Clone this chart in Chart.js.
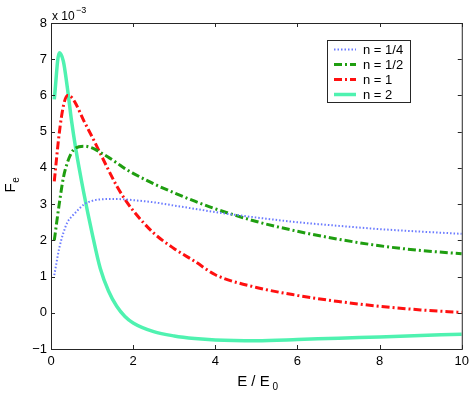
<!DOCTYPE html>
<html>
<head>
<meta charset="utf-8">
<script src="https://cdn.jsdelivr.net/npm/chart.js@4/dist/chart.umd.min.js"></script>
<style>
  body { margin: 0; background: #fff; }
  #wrap { width: 474px; height: 394px; }
</style>
</head>
<body>
<div id="wrap"><canvas id="chart" width="474" height="394"></canvas></div>
<script>
// E / E0 sample points (shared by all curves)
const energy = [0.08, 0.2, 0.3, 0.4, 0.5, 0.6, 0.8, 1.0, 1.2, 1.4, 1.6, 1.8, 2.0, 2.5, 3, 3.5, 4, 5, 6, 7, 8, 9, 10];

// Fe values, in units of 1e-3
const fQuarter = [1.04, 1.78, 2.2, 2.5, 2.65, 2.77, 2.99, 3.09, 3.13, 3.14, 3.14, 3.13, 3.11, 3.05, 2.96, 2.87, 2.78, 2.63, 2.5, 2.4, 2.31, 2.24, 2.18];
const fHalf = [2.0, 3.0, 3.72, 4.15, 4.42, 4.55, 4.6, 4.55, 4.43, 4.29, 4.14, 3.98, 3.85, 3.56, 3.31, 3.08, 2.87, 2.52, 2.25, 2.03, 1.85, 1.72, 1.63];
const fOne = [3.63, 4.95, 5.7, 6.0, 5.95, 5.78, 5.3, 4.86, 4.4, 3.94, 3.5, 3.13, 2.82, 2.2, 1.77, 1.42, 1.05, 0.7, 0.48, 0.31, 0.18, 0.08, 0.01];
const fTwo = [5.89, 7.18, 6.95, 6.2, 5.3, 4.55, 3.3, 2.2, 1.22, 0.6, 0.18, -0.1, -0.28, -0.52, -0.64, -0.71, -0.75, -0.77, -0.74, -0.7, -0.67, -0.63, -0.59];

const labels = ["n = 1/4", "n = 1/2", "n = 1", "n = 2"];
const xTicks = [0, 2, 4, 6, 8, 10];
const yTicks = [-1, 0, 1, 2, 3, 4, 5, 6, 7, 8];

function pts(ys) {
  return energy.map((x, i) => ({ x: x, y: ys[i] }));
}

const FONT = "Liberation Sans, Arial, sans-serif";

// box, inward ticks, titles, legend (matlab look)
const matlabFrame = {
  id: "matlabFrame",
  afterDraw(chart) {
    const ctx = chart.ctx;
    const a = chart.chartArea;
    const xs = chart.scales.x, ys = chart.scales.y;
    ctx.save();
    ctx.strokeStyle = "#262626";
    ctx.lineWidth = 1;
    ctx.strokeRect(a.left + 0.5, a.top + 0.5, a.right - a.left, a.bottom - a.top);
    ctx.beginPath();
    xTicks.forEach(v => {
      const px = Math.round(xs.getPixelForValue(v)) + 0.5;
      ctx.moveTo(px, a.bottom); ctx.lineTo(px, a.bottom - 4);
      ctx.moveTo(px, a.top); ctx.lineTo(px, a.top + 4);
    });
    yTicks.forEach(v => {
      const py = Math.round(ys.getPixelForValue(v)) + 0.5;
      ctx.moveTo(a.left, py); ctx.lineTo(a.left + 4, py);
      ctx.moveTo(a.right, py); ctx.lineTo(a.right - 4, py);
    });
    ctx.stroke();

    // exponent
    ctx.fillStyle = "#000";
    ctx.textBaseline = "alphabetic";
    ctx.textAlign = "left";
    ctx.font = "12px " + FONT;
    ctx.fillText("x 10", a.left + 1, 20);
    ctx.font = "9px " + FONT;
    ctx.fillText("\u22123", a.left + 25, 13);

    // axis titles
    ctx.font = "15px " + FONT;
    ctx.textAlign = "center";
    const cx = (a.left + a.right) / 2;
    ctx.fillText("E / E", cx - 3, 386);
    ctx.font = "10px " + FONT;
    ctx.fillText("0", cx + 19, 390);
    ctx.save();
    ctx.translate(15, (a.top + a.bottom) / 2);
    ctx.rotate(-Math.PI / 2);
    ctx.font = "15px " + FONT;
    ctx.fillText("F", -2, 0);
    ctx.font = "10px " + FONT;
    ctx.fillText("e", 6, 4);
    ctx.restore();

    // legend
    const lx = 327, ly = 40, lw = 83, lh = 62;
    ctx.fillStyle = "#fff";
    ctx.fillRect(lx, ly, lw, lh);
    ctx.strokeStyle = "#262626";
    ctx.strokeRect(lx + 0.5, ly + 0.5, lw, lh);
    chart.data.datasets.forEach((ds, i) => {
      const y = 49.5 + i * 15;
      ctx.save();
      ctx.strokeStyle = ds.borderColor;
      ctx.lineWidth = ds.borderWidth;
      ctx.setLineDash(ds.borderDash || []);
      ctx.beginPath();
      ctx.moveTo(334, y); ctx.lineTo(356, y);
      ctx.stroke();
      ctx.restore();
      ctx.fillStyle = "#000";
      ctx.font = "13px " + FONT;
      ctx.textAlign = "left";
      ctx.textBaseline = "middle";
      ctx.fillText(ds.label, 363, y + 1);
    });
    ctx.restore();
  }
};

new Chart(document.getElementById("chart"), {
  type: "line",
  data: {
    datasets: [
      { label: labels[0], data: pts(fQuarter), borderColor: "#6b7bff", borderWidth: 2, borderDash: [1.5, 2] },
      { label: labels[1], data: pts(fHalf), borderColor: "#1f9e10", borderWidth: 3, borderDash: [8, 3, 2, 3] },
      { label: labels[2], data: pts(fOne), borderColor: "#ff1010", borderWidth: 3, borderDash: [8, 3, 2, 3] },
      { label: labels[3], data: pts(fTwo), borderColor: "#4ff2b0", borderWidth: 3.5 }
    ]
  },
  options: {
    responsive: false,
    animation: false,
    layout: { padding: { left: 0, top: 23, right: 12, bottom: 0 } },
    elements: { point: { radius: 0 }, line: { cubicInterpolationMode: "monotone", fill: false } },
    plugins: { legend: { display: false }, tooltip: { enabled: false } },
    scales: {
      x: {
        type: "linear", min: 0, max: 10,
        grid: { display: false, drawTicks: false },
        border: { display: false },
        ticks: { stepSize: 2, padding: 5, color: "#000", font: { family: FONT, size: 13 }, maxRotation: 0 },
        afterFit(s) { s.height = 45; }
      },
      y: {
        min: -1, max: 8,
        grid: { display: false, drawTicks: false },
        border: { display: false },
        ticks: { stepSize: 1, padding: 4, color: "#000", font: { family: FONT, size: 13 }, callback: v => v < 0 ? "\u2212" + Math.abs(v) : v },
        afterFit(s) { s.width = 51; }
      }
    }
  },
  plugins: [matlabFrame]
});
</script>
</body>
</html>
